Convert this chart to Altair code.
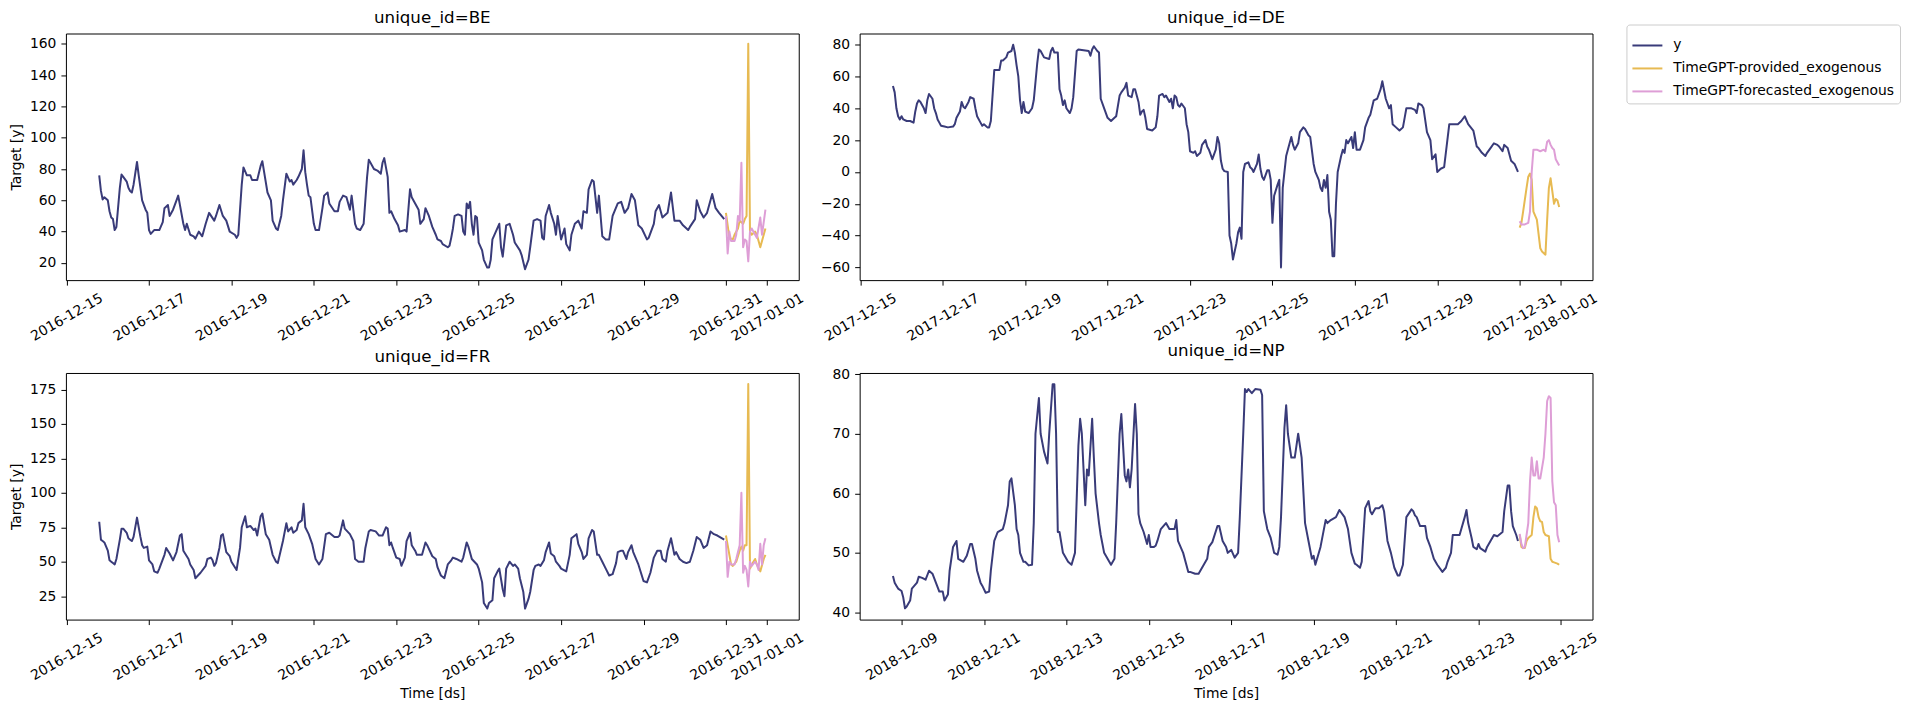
import altair as alt
import pandas as pd

SERIES = ["y", "TimeGPT-provided_exogenous", "TimeGPT-forecasted_exogenous"]
COLORS = ["#393b79", "#e7ba52", "#de9ed6"]

# (hour since start-date midnight, value) for the history; (hour of forecast day, value) for forecasts
be_y = [(19,76),(20,66),(21,60.5),(22,62),(24,60),(25,53),(26,49),(27,48),(28,41),(29,43),(31,68),(32,76.5),(33,75),(35,72),(36,68),(37,66),(38,65),(39,70),(41,84.5),(42,76),(43,68),(44,60),(46,54),(47,52),(48,41),(49,38.5),(51,41),(54,41),(56,46),(57,55),(59,57),(60,50),(62,54),(64,60),(65,63),(68,45),(69,41),(70,45),(72,38),(74,37),(75,35.5),(77,40),(79,37),(81,45),(83,52),(86,47),(87,50),(89,57),(91,50),(93,47),(95,40),(98,38),(99,36),(100,38),(102,70),(103,81),(105,76),(107,76),(108,73),(111,73),(113,82),(114,85),(117,65),(119,60),(120,47),(122,42),(123,41),(125,50),(126,60),(128,77),(130,72),(131,73),(132,70),(134,73),(135,75),(137,80),(138,92),(139,78),(140,70),(141,63),(142,62),(144,45),(145,41),(147,41),(149,55),(150,63),(152,65),(153,58),(156,53),(158,53),(159,59),(161,63),(163,62),(165,54),(166,63),(168,45),(169,42),(171,41),(173,45),(175,75),(176,86),(179,80),(181,79),(183,77),(184,84),(185,87),(187,75),(188,52),(189,53),(191,48),(193,44),(194,40),(197,41),(198,40),(200,67),(201,62),(203,58),(205,54),(206,45),(208,48),(209,55),(211,50),(213,43),(215,38),(216,35),(218,34),(219,32),(222,30),(223,31),(224,36),(225,42),(226,50),(228,51),(230,50),(231,40),(232,38),(233,58),(234,55),(235,59),(236,45),(237,38),(238,50),(239,49),(240,33),(242,28),(243,22),(245,17),(246,17),(247,22),(248,35),(250,40),(252,45),(253,30),(254,24),(256,44),(258,45),(260,38),(261,33),(264,28),(265,25),(267,16),(269,22),(270,30),(272,47),(274,48),(276,47),(277,36),(278,35),(279,50),(281,57),(282,52),(284,45),(285,38),(286,50),(288,35),(290,42),(291,32),(293,28),(294,38),(296,45),(298,47),(300,42),(301,53),(303,52),(304,67),(306,73),(307,72),(309,52),(310,63),(312,37),(314,35),(316,35),(318,50),(321,58),(323,59),(325,52),(327,55),(329,64),(331,60),(333,44),(335,42),(338,35),(339,36),(342,45),(343,53),(345,57),(347,49),(350,52),(352,65),(354,47),(357,47),(359,44),(362,41),(363,43),(366,48),(367,60),(369,53),(371,49),(373,52),(376,64),(378,55),(380,52),(383,48)]
be_prov = [(0,52),(1,44),(2,36),(4,35),(5,38),(7,42),(8,47),(10,45),(11,48),(12,50),(13,160),(14,40),(15,38),(17,40),(18,38),(20,30),(22,38),(23,42)]
be_fcst = [(0,50),(1,26),(2,40),(3,34),(5,34),(6,38),(7,50),(8,47),(9,84),(10,30),(11,35),(12,34),(13,21),(14,40),(15,42),(17,38),(18,36),(20,49),(21,38),(23,54)]

fr_y = [(19,79),(20,66),(21,65),(22,64),(24,58),(25,51),(26,50),(27,49),(28,48),(29,52),(31,66),(32,74),(33,74),(35,71),(36,67),(37,66),(38,65),(39,68),(41,82),(42,75),(43,68),(44,62),(45,60),(47,61),(48,51),(50,48),(51,43),(53,42),(54,45),(57,55),(58,60),(60,56),(62,51),(64,57),(66,69),(67,70),(68,58),(69,56),(71,52),(72,48),(74,44),(75,38),(78,42),(81,47),(82,52),(84,53),(85,51),(86,47),(87,49),(89,60),(90,69),(91,70),(93,57),(95,54),(96,50),(98,46),(99,44),(101,60),(102,75),(104,83),(105,75),(107,76),(109,73),(110,74),(111,69),(113,83),(114,85),(116,70),(118,66),(120,55),(122,50),(123,49),(126,65),(128,78),(129,72),(131,75),(132,71),(134,73),(135,78),(137,80),(138,92),(139,75),(141,70),(143,63),(145,52),(147,48),(149,52),(151,70),(153,71),(156,68),(158,68),(159,69),(161,80),(162,74),(165,70),(167,65),(168,52),(170,50),(173,50),(174,60),(176,72),(177,73),(180,72),(182,69),(184,69),(186,75),(187,74),(188,62),(189,64),(190,60),(192,53),(194,52),(195,47),(197,53),(198,65),(200,71),(201,62),(203,58),(204,55),(206,55),(207,55),(209,64),(210,62),(213,54),(215,52),(216,46),(218,40),(220,38),(222,48),(224,51),(225,53),(227,52),(230,50),(231,53),(233,64),(234,61),(236,52),(239,48),(240,45),(242,35),(243,20),(245,16),(246,20),(248,22),(249,38),(251,43),(252,45),(254,30),(255,25),(256,45),(258,50),(260,47),(261,48),(263,45),(264,38),(266,28),(267,16),(269,23),(270,28),(272,44),(273,47),(275,48),(276,47),(278,51),(279,57),(281,64),(282,56),(284,54),(285,50),(287,47),(288,45),(291,43),(293,55),(294,67),(297,70),(298,63),(300,57),(301,52),(303,55),(304,67),(306,73),(307,72),(309,55),(310,55),(312,50),(314,45),(316,40),(318,41),(320,49),(321,57),(323,58),(324,58),(326,52),(327,57),(329,62),(330,57),(333,48),(335,40),(336,36),(338,35),(340,42),(342,53),(344,58),(346,58),(347,52),(349,50),(350,58),(352,67),(354,55),(355,57),(357,52),(359,50),(361,49),(363,50),(365,58),(367,68),(369,66),(371,60),(373,62),(375,72),(377,70),(379,69),(383,66)]
fr_prov = [(0,69),(1,62),(3,48),(4,47),(6,50),(8,58),(9,61),(10,58),(11,62),(12,62),(13,179),(14,45),(16,50),(17,52),(18,48),(20,43),(22,52),(23,55)]
fr_fcst = [(0,65),(1,39),(2,50),(3,48),(5,48),(6,52),(7,57),(8,62),(9,100),(10,42),(11,47),(12,44),(13,32),(14,50),(15,47),(17,50),(18,48),(19,44),(20,63),(21,48),(22,62),(23,67)]

de_y = [(19,54),(20,50),(21,40),(22,35),(23,33),(24,35),(25,33),(27,32),(29,32),(31,31),(32,38),(33,43),(34,45),(35,44),(37,40),(38,37),(39,45),(40,49),(42,46),(43,40),(44,37),(45,33),(46,31),(47,29),(49,28.5),(51,28),(54,28.5),(55,30),(56,34),(58,38),(59,44),(60,41),(61,40),(63,44),(64,47),(66,46),(67,40),(68,35),(70,31),(71,29),(72,30),(74,28),(75,28),(76,32),(78,64),(79,64),(81,64),(82,70),(83,70),(85,72),(86,75),(88,76),(89,80),(90,75),(91,67),(92,60),(93,45),(94,37),(95,44),(96,38),(98,37),(100,40),(101,45),(103,68),(104,77),(105,76),(107,72),(110,71),(111,76),(112,78),(113,75),(115,75),(116,52),(117,48),(118,42),(119,45),(120,40),(122,37),(123,40),(124,47),(126,76),(127,77),(130,76.5),(133,76),(134,73),(135,77),(136,79),(138,76),(139,75),(140,46),(142,40),(144,34),(146,32),(148,34),(149,35),(151,48),(152,50),(154,53),(155,56),(156,48),(158,47),(159,52),(160,52),(162,44),(163,36),(164,38),(165,39),(166,34),(167,27),(170,26),(172,28),(173,35),(174,48),(176,49),(177,47),(178,48),(180,44),(181,46),(182,40),(183,48),(184,47),(185,42),(186,41),(187,43),(189,40),(190,30),(191,25),(192,13),(194,12),(195,13),(196,10),(198,12),(199,17),(201,20),(202,16),(203,14),(205,8),(207,14),(208,22),(209,18),(210,7),(211,2),(212,0.5),(214,0),(215,-40),(216,-45),(217,-55),(219,-45),(220,-38),(221,-35),(222,-42),(223,0),(224,5),(226,6),(227,3),(228,2),(229,0),(231,5),(232,11),(233,2),(234,-3),(235,-5),(237,1),(238,1),(239,-5),(240,-32),(241,-15),(243,-8),(244,-5),(245,-60),(246,-10),(247,0),(248,10),(250,18),(251,22),(252,17),(253,14),(255,18),(256,25),(258,28),(259,27),(261,23),(262,22),(264,5),(265,0),(267,-5),(268,-10),(269,-12),(270,-5),(271,-10),(272,-2),(273,-25),(274,-30),(275,-53),(276,-53),(277,-20),(278,0),(280,10),(281,14),(282,12),(283,20),(284,18),(286,22),(287,15),(288,25),(289,14),(291,14),(293,20),(294,28),(296,34),(297,36),(299,45),(301,46),(303,52),(304,57),(306,46),(308,40),(309,42),(310,30),(312,28),(314,26),(316,28),(317,34),(318,40),(321,40),(323,39),(324,37),(325,43),(327,42),(328,40),(330,25),(332,20),(333,8),(335,11),(336,0),(338,2),(340,3),(343,30),(346,30),(348,30),(350,32),(352,35),(354,30),(357,26),(359,16),(360,15),(362,12),(364,10),(365,12),(367,15),(369,18),(371,17),(372,16),(374,13),(375,17),(377,15),(379,7),(381,5),(383,0)]
de_prov = [(0,-35),(1,-32),(2,-25),(4,-10),(5,-3),(6,-1),(7,-5),(8,-25),(10,-30),(12,-48),(13,-50),(15,-52),(16,-30),(17,-10),(18,-4),(19,-12),(20,-20),(21,-17),(22,-18),(23,-22)]
de_fcst = [(0,-31),(1,-33),(3,-33),(5,-32),(6,-25),(7,0),(8,14),(10,14),(12,13),(14,14),(15,13),(16,19),(17,20),(18,17),(19,15),(20,14),(21,8),(23,4)]

np_y = [(19,46.1),(20,45),(21,44.5),(22,44),(24,43.6),(25,42.5),(26,40.7),(27,41),(29,42),(30,44),(33,45),(34,46),(36,45.8),(38,45.5),(40,47),(42,46.5),(44,45),(46,43.5),(48,43.5),(49,42),(51,43),(52,47),(54,51),(56,52),(57,49),(60,48.5),(62,49.5),(64,51.5),(65,51.5),(67,49),(68,47),(70,45),(71,44.5),(73,43.3),(75,43.5),(76,47),(78,52),(80,53.5),(83,54),(84,55),(86,58),(87,62),(88,62.5),(90,58),(91,54),(92,53),(93,50),(95,48.5),(96,48.5),(98,47.9),(100,48),(101,55),(102,70),(104,76),(105,70),(107,67),(109,65),(110,70),(112,78.3),(113,78.3),(114,70),(115,53.5),(116,53.5),(118,50),(119,49.5),(121,48.5),(123,48),(125,50),(127,68),(128,72.5),(129,70),(131,58),(132,64),(133,63),(135,72.5),(136,66),(137,60),(139,55),(140,53),(142,50),(143,49.5),(145,48.5),(146,48),(148,49),(149,55),(151,70),(152,73.3),(154,63),(155,62),(156,64),(157,61),(158,64),(160,75),(161,70),(162,56.5),(163,55),(165,53.5),(167,51.5),(168,53),(169,51),(171,51),(172,51.2),(173,52),(175,54),(178,55),(180,54),(183,54),(184,55.5),(185,52),(188,50),(191,46.8),(192,46.8),(195,46.5),(197,46.5),(200,48),(202,49),(203,51),(205,51.8),(208,54.5),(209,54.5),(211,52),(213,51),(214,50),(216,50.5),(218,49.2),(220,50),(221,56),(223,70),(224,77.5),(225,77),(226,77.5),(228,76.8),(230,77.5),(233,77.4),(234,76.5),(235,57),(237,54),(239,52.5),(241,50),(243,49.7),(244,51),(245,56),(247,71),(248,74.8),(249,70),(251,66),(253,66),(255,70),(257,66),(259,55),(261,52),(263,49),(264,49.5),(265,48),(268,51),(271,55.5),(272,55),(274,55.5),(277,56),(279,57.2),(282,56),(284,54),(286,50),(288,48.2),(289,48),(291,47.5),(292,48.5),(294,57.5),(296,58.7),(297,57),(298,56.5),(300,57.5),(302,57.5),(304,58),(305,57),(307,52),(309,50),(311,47.5),(313,46.2),(314,46.2),(316,48),(318,56),(321,57.3),(322,57),(323,56.3),(324,56),(326,54.5),(329,54.5),(330,52.5),(332,51),(334,49),(336,48),(339,46.8),(341,47.5),(342,48.5),(344,50),(345,53),(347,53),(349,53),(350,54),(352,56),(353,57.2),(354,55),(356,52.5),(357,51),(359,50.6),(360,51.5),(361,50.8),(364,50.2),(365,51),(367,52),(369,53),(371,52.8),(374,53.5),(375,57),(377,61.3),(378,61.3),(379,57),(380,54.5),(382,53),(383,52)]
np_prov = [(0,53),(1,51),(2,50.8),(3,50.8),(4,52),(5,52.5),(7,53),(8,56),(9,57.8),(10,57.5),(11,56),(12,55.3),(13,55.2),(14,53.5),(15,53),(17,52.8),(18,49),(19,48.5),(20,48.4),(22,48.2),(23,48)]
np_fcst = [(0,53.2),(1,51.5),(2,50.8),(3,51),(5,55),(6,62),(7,66),(8,63),(9,63),(10,65.4),(11,62.5),(12,62.5),(14,66),(15,70),(16,75.5),(17,76.3),(18,76),(19,62),(20,58.5),(21,58),(22,53),(23,51.8)]

PANELS = [
    ("BE", "2016-12-15", be_y, be_prov, be_fcst, [9, 166.6], [20, 40, 60, 80, 100, 120, 140, 160], [0, 2, 4, 6, 8, 10, 12, 14, 16, 17]),
    ("DE", "2017-12-15", de_y, de_prov, de_fcst, [-68, 87], [-60, -40, -20, 0, 20, 40, 60, 80], [0, 2, 4, 6, 8, 10, 12, 14, 16, 17]),
    ("FR", "2016-12-15", fr_y, fr_prov, fr_fcst, [8, 187], [25, 50, 75, 100, 125, 150, 175], [0, 2, 4, 6, 8, 10, 12, 14, 16, 17]),
    ("NP", "2018-12-08", np_y, np_prov, np_fcst, [38.8, 80.2], [40, 50, 60, 70, 80], [1, 3, 5, 7, 9, 11, 13, 15, 17]),
]
HORIZON_START = 384  # forecast starts at hour 384 (16th day 00:00)
PANEL_W, PANEL_H, GAP_X, GAP_Y = 734, 247, 61, 93


def ms(start, hours):
    return int((pd.Timestamp(start, tz="UTC") + pd.Timedelta(hours=hours)).timestamp() * 1000)


def panel(idx, uid, start, ys, prov, fcst, ydom, yticks, tick_days):
    left = idx % 2 == 0
    bottom = idx >= 2
    frames = []
    for name, pts, off in ((SERIES[0], ys, 0), (SERIES[1], prov, HORIZON_START), (SERIES[2], fcst, HORIZON_START)):
        frames.append(pd.DataFrame({
            "ds": [ms(start, h + off) for h, _ in pts],
            "value": [v for _, v in pts],
            "series": name,
        }))
    xdom = [ms(start, 19 - 19.4), ms(start, 407 + 19.4)]
    xticks = [ms(start, 24 * d) for d in tick_days]
    x_axis = dict(values=xticks, format="%Y-%m-%d", labelAngle=330,
                  labelAlign="center", labelBaseline="middle", labelPadding=32,
                  labelOverlap=False, labelFlush=False)
    x_axis["title"] = "Time [ds]" if bottom else None
    y_axis = dict(values=yticks, labelOverlap=False, labelFlush=False)
    y_axis["title"] = "Target [y]" if left else None
    x = alt.X("ds:T", scale=alt.Scale(type="utc", domain=xdom), axis=alt.Axis(**x_axis))
    y = alt.Y("value:Q", scale=alt.Scale(domain=ydom, nice=False, zero=False), axis=alt.Axis(**y_axis))
    color = alt.Color("series:N", scale=alt.Scale(domain=SERIES, range=COLORS),
                      legend=alt.Legend(title=None, orient="none",
                                        legendX=2 * PANEL_W + GAP_X + 34, legendY=-9))
    layers = [
        alt.Chart(f).mark_line(strokeWidth=2, strokeJoin="round").encode(x=x, y=y, color=color)
        for f in frames
    ]
    return alt.layer(*layers).properties(width=PANEL_W, height=PANEL_H, title=f"unique_id={uid}")


charts = [panel(i, *p) for i, p in enumerate(PANELS)]

chart = alt.concat(*charts, columns=2, spacing={"row": GAP_Y, "column": GAP_X}, bounds="flush").properties(
    padding=0
).configure(font="DejaVu Sans").configure_view(
    stroke="black", strokeWidth=1
).configure_axis(
    grid=False, domain=False, tickColor="black", tickSize=5, tickWidth=1,
    labelColor="black", labelFontSize=13.9, labelPadding=5,
    titleFontSize=13.9, titleFontWeight="normal", titleColor="black",
).configure_axisY(titlePadding=6).configure_axisX(titlePadding=4).configure_title(
    fontSize=16.7, fontWeight="normal", color="black", offset=7, anchor="middle"
).configure_legend(
    padding=5, strokeColor="#cccccc", fillColor="white",
    cornerRadius=3, symbolType="stroke", symbolSize=900, symbolStrokeWidth=2,
    labelFontSize=13.9, labelLimit=400, rowPadding=0, labelOffset=10,
)

chart.save("out.html", embed_options={"renderer": "svg", "actions": False})
